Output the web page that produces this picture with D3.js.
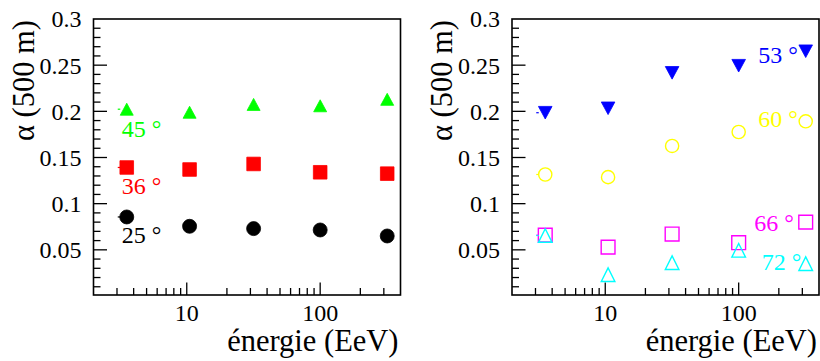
<!DOCTYPE html>
<html><head><meta charset="utf-8">
<script src="https://cdn.jsdelivr.net/npm/d3@7"></script>
<style>
html,body{margin:0;padding:0;background:#fff;}
svg{display:block;}
svg text{font-family:'Liberation Serif','Tinos','Times New Roman',Times,'DejaVu Serif',serif;}
</style></head>
<body>
<svg id="chart" width="820" height="361"></svg>
<script>
// ---- data ----
const energies = [3.55, 10.5, 31.7, 100, 318];
const alpha25 = [0.0856, 0.0755, 0.073, 0.0715, 0.065];
const alpha36 = [0.1392, 0.137, 0.143, 0.134, 0.1325];
const alpha45 = [0.2023, 0.199, 0.2075, 0.206, 0.213];
const alpha53 = [0.1985, 0.2033, 0.2417, 0.2494, 0.2651];
const alpha60 = [0.1316, 0.1287, 0.1625, 0.1776, 0.1892];
const alpha66 = [0.0659, 0.0529, 0.0671, 0.0577, 0.080];
const alpha72 = [0.0655, 0.0231, 0.0361, 0.0495, 0.035];
const xTickLabels = [10, 100];
const yTickLabels = [0.05, 0.1, 0.15, 0.2, 0.25, 0.3];
const yLabel = "α (500 m)";
const xLabel = "énergie (EeV)";

(function () {
const svg = d3.select("#chart");
const FONT = "'Liberation Serif', Tinos, 'Times New Roman', Times, 'DejaVu Serif', serif";

const panels = [
  {left: 93.5, right: 400.5, series: [
    {name: "45 °", values: alpha45, color: "#00ff00", shape: "triUp", fill: true, lx: 121.7, ly: 136.7},
    {name: "36 °", values: alpha36, color: "#ff0000", shape: "square", fill: true, lx: 121.7, ly: 194.3},
    {name: "25 °", values: alpha25, color: "#000000", shape: "circle", fill: true, lx: 121.7, ly: 243.3}
  ]},
  {left: 512, right: 819, series: [
    {name: "53 °", values: alpha53, color: "#0000ff", shape: "triDown", fill: true, lx: 758.3, ly: 62.7},
    {name: "60 °", values: alpha60, color: "#ffff00", shape: "circle", fill: false, lx: 758.3, ly: 126.7},
    {name: "66 °", values: alpha66, color: "#ff00ff", shape: "square", fill: false, lx: 754.3, ly: 230.7},
    {name: "72 °", values: alpha72, color: "#00ffff", shape: "triUp", fill: false, lx: 761.7, ly: 270}
  ]}
];

const frameTop = 19, frameBottom = 295;
const y = d3.scaleLinear().domain([0, 0.3]).range([296, 19]);

function shapePath(shape, cx, cy, filled) {
  const p = d3.path();
  if (shape === "circle") {
    const r = filled ? 7 : 6.6;
    p.moveTo(cx + r, cy); p.arc(cx, cy, r, 0, 2 * Math.PI);
  } else if (shape === "square") {
    const h = filled ? 6.8 : 6.9;
    p.rect(cx - h, cy - h, 2 * h, 2 * h);
  } else if (shape === "triUp") {
    const w = filled ? 6.5 : 6.8, hh = filled ? 6 : 6.8;
    p.moveTo(cx - w, cy + hh); p.lineTo(cx + w, cy + hh); p.lineTo(cx, cy - hh); p.closePath();
  } else if (shape === "triDown") {
    const w = 6.8, hh = 6.3;
    p.moveTo(cx - w, cy - hh); p.lineTo(cx + w, cy - hh); p.lineTo(cx, cy + hh); p.closePath();
  }
  return p.toString();
}

panels.forEach(pn => {
  const x = d3.scaleLog().domain([2, 400]).range([pn.left, pn.right]);
  const g = svg.append("g");

  g.append("rect").attr("x", pn.left).attr("y", frameTop)
    .attr("width", pn.right - pn.left).attr("height", frameBottom - frameTop)
    .attr("fill", "none").attr("stroke", "#000").attr("stroke-width", 1.6);

  const yt = d3.range(1, 30).map(i => +(i * 0.01).toFixed(2));
  g.selectAll(".yt").data(yt).join("line")
    .attr("x1", pn.left).attr("x2", d => pn.left + (Math.round(d * 100) % 5 === 0 ? 13.5 : 7))
    .attr("y1", d => y(d)).attr("y2", d => y(d))
    .attr("stroke", "#000").attr("stroke-width", 1.3);

  g.selectAll(".yl").data(yTickLabels).join("text")
    .attr("x", pn.left - 12).attr("y", d => y(d)).attr("dy", "0.35em")
    .attr("text-anchor", "end").attr("font-size", 24).attr("font-family", FONT).attr("fill", "#000")
    .text(d => d3.format("")(d));

  const xt = [];
  [1, 10, 100].forEach(dec => { for (let k = 1; k <= 9; k++) { const v = dec * k; if (v > 2 && v < 400) xt.push(v); } });
  g.selectAll(".xt").data(xt).join("line")
    .attr("x1", d => x(d)).attr("x2", d => x(d))
    .attr("y1", frameBottom).attr("y2", d => frameBottom - (xTickLabels.includes(d) ? 12.5 : 7))
    .attr("stroke", "#000").attr("stroke-width", 1.3);

  g.selectAll(".xl").data(xTickLabels).join("text")
    .attr("x", d => x(d)).attr("y", 321)
    .attr("text-anchor", "middle").attr("font-size", 24).attr("font-family", FONT).attr("fill", "#000")
    .text(d => d);

  g.append("text").attr("transform", `translate(${pn.left - 60},20) rotate(-90)`)
    .attr("text-anchor", "end").attr("font-size", 30.5).attr("font-family", FONT).attr("fill", "#000").text(yLabel);
  g.append("text").attr("x", pn.right - 2).attr("y", 350.5)
    .attr("text-anchor", "end").attr("font-size", 30.5).attr("font-family", FONT).attr("fill", "#000").text(xLabel);

  pn.series.forEach(s => {
    const pts = energies.map((e, i) => ({e, v: s.values[i]}));
    g.append("line")
      .attr("x1", x(pts[0].e) - 9).attr("x2", x(pts[0].e) - 6.5)
      .attr("y1", y(pts[0].v)).attr("y2", y(pts[0].v))
      .attr("stroke", s.color).attr("stroke-width", 1.2);
    g.selectAll(null).data(pts).join("path")
      .attr("d", d => shapePath(s.shape, x(d.e), y(d.v), s.fill))
      .attr("fill", s.fill ? s.color : "none")
      .attr("stroke", s.color)
      .attr("stroke-width", s.fill ? 0.8 : 1.4);
    g.append("text").attr("x", s.lx).attr("y", s.ly)
      .attr("font-size", 24).attr("font-family", FONT).attr("fill", s.color).text(s.name);
  });
});
})();
</script>
</body></html>
